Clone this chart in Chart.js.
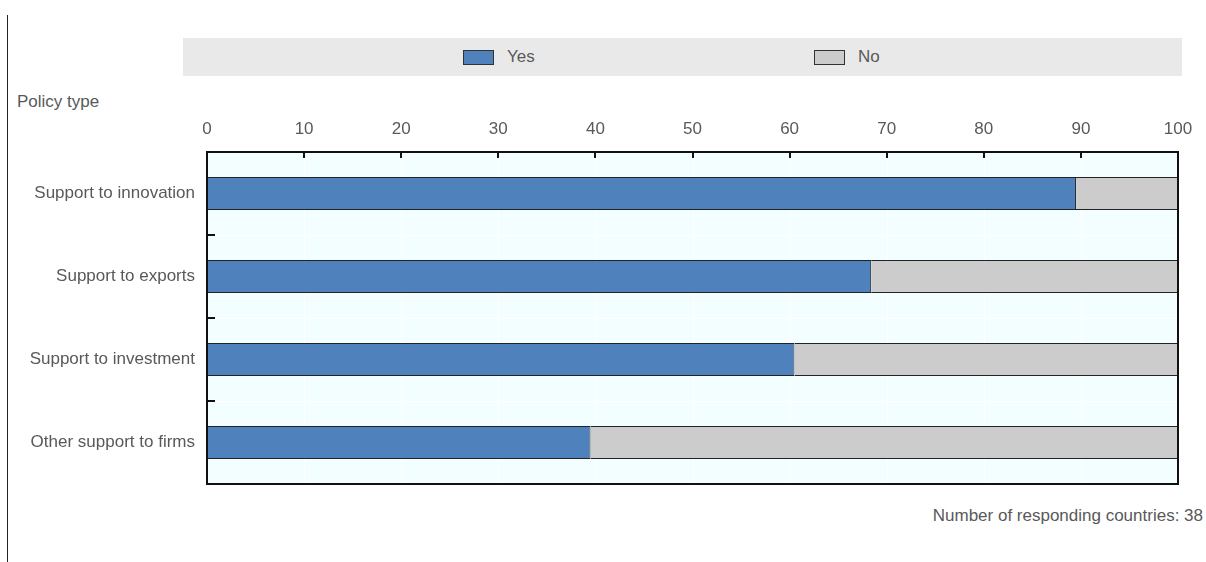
<!DOCTYPE html>
<html>
<head>
<meta charset="utf-8">
<script src="https://cdn.jsdelivr.net/npm/chart.js@4.4.0/dist/chart.umd.min.js"></script>
<style>
  body { margin: 0; background: #fff; font-family: "Liberation Sans", Arial, sans-serif; color: #595959; }
  #wrap { position: relative; width: 1206px; height: 562px; overflow: hidden; }
  #vline { position: absolute; left: 7px; top: 15px; width: 1px; height: 560px; background: #222; }
  #legend { position: absolute; left: 183px; top: 38px; width: 999px; height: 38px; background: #e9e9e9; }
  .item { position: absolute; top: 0; height: 38px; display: flex; align-items: center; font-size: 17px; }
  .swatch { width: 29px; height: 13px; border: 1px solid #333; margin-right: 13px; }
  #ytitle { position: absolute; left: 17px; top: 92px; font-size: 17px; }
  #note { position: absolute; right: 3px; top: 506px; font-size: 17px; }
  canvas { position: absolute; left: 0; top: 0; }
</style>
</head>
<body>
<div id="wrap">
  <div id="vline"></div>
  <div id="legend"></div>
  <div id="ytitle">Policy type</div>
  <div id="note">Number of responding countries: 38</div>
  <canvas id="chart" width="1206" height="562"></canvas>
</div>
<script>
var categories = ["Support to innovation", "Support to exports", "Support to investment", "Other support to firms"];
var yesValues = [89.5, 68.4, 60.5, 39.5];
var noValues = [10.5, 31.6, 39.5, 60.5];
var seriesNames = ["Yes", "No"];
var seriesColors = ["#4f81bd", "#cccccc"];

// plot background + frame + inside ticks
var framePlugin = {
    id: "frame",
    beforeDatasetsDraw: function (chart) {
        var a = chart.chartArea, ctx = chart.ctx;
        ctx.save();
        ctx.fillStyle = "#f2feff";
        ctx.fillRect(a.left, a.top, a.right - a.left, a.bottom - a.top);
        // white grid
        ctx.strokeStyle = "#ffffff";
        ctx.lineWidth = 1;
        var xs = chart.scales.x, ys = chart.scales.y;
        xs.ticks.forEach(function (t) {
            var px = Math.round(xs.getPixelForValue(t.value)) + 0.5;
            ctx.beginPath(); ctx.moveTo(px, a.top); ctx.lineTo(px, a.bottom); ctx.stroke();
        });
        for (var i = 0; i < categories.length - 1; i++) {
            var py = Math.round((ys.getPixelForValue(i) + ys.getPixelForValue(i + 1)) / 2) + 0.5;
            ctx.beginPath(); ctx.moveTo(a.left, py); ctx.lineTo(a.right, py); ctx.stroke();
        }
        ctx.restore();
    },
    afterDatasetsDraw: function (chart) {
        var a = chart.chartArea, ctx = chart.ctx;
        var xs = chart.scales.x, ys = chart.scales.y;
        ctx.save();
        ctx.strokeStyle = "#111";
        ctx.lineWidth = 2;
        xs.ticks.forEach(function (t) {
            if (t.value <= xs.min || t.value >= xs.max) return;
            var px = Math.round(xs.getPixelForValue(t.value));
            ctx.beginPath(); ctx.moveTo(px, a.top); ctx.lineTo(px, a.top + 6); ctx.stroke();
        });
        for (var i = 0; i < categories.length - 1; i++) {
            var py = Math.round((ys.getPixelForValue(i) + ys.getPixelForValue(i + 1)) / 2);
            ctx.beginPath(); ctx.moveTo(a.left, py); ctx.lineTo(a.left + 8, py); ctx.stroke();
        }
        ctx.strokeRect(a.left, a.top, a.right - a.left, a.bottom - a.top);
        ctx.restore();
    }
}

var chart = new Chart(document.getElementById("chart").getContext("2d"), {
    type: "bar",
    data: {
        labels: categories,
        datasets: [
            { label: seriesNames[0], data: yesValues, backgroundColor: seriesColors[0], borderColor: "#222", borderWidth: 1, barPercentage: 0.4, categoryPercentage: 1 },
            { label: seriesNames[1], data: noValues, backgroundColor: seriesColors[1], borderColor: "#222", borderWidth: 1, barPercentage: 0.4, categoryPercentage: 1 },
        ],
    },
    options: {
        indexAxis: "y",
        responsive: false,
        animation: false,
        layout: { padding: { left: 0, top: 0, right: 28, bottom: 78 } },
        plugins: { legend: { display: false }, tooltip: { enabled: false } },
        scales: {
            x: {
                position: "top",
                stacked: true,
                min: 0,
                max: 100,
                ticks: { stepSize: 10, color: "#595959", padding: 12, font: { family: "Liberation Sans", size: 17 } },
                grid: { display: false, drawTicks: false },
                border: { display: false },
                afterFit: function (scale) { scale.height = 152; },
            },
            y: {
                stacked: true,
                ticks: { color: "#595959", padding: 12, font: { family: "Liberation Sans", size: 17 } },
                grid: { display: false, drawTicks: false },
                border: { display: false },
                afterFit: function (scale) { scale.width = 207; },
            },
        },
    },
    plugins: [framePlugin],
})

// legend built from the datasets
var legendLeft = [280, 631];
chart.data.datasets.forEach(function (ds, i) {
    $item = document.createElement("div");
    $item.className = "item";
    $item.style.left = legendLeft[i] + "px";
    $item.innerHTML = `<span class="swatch" style="background:${ds.backgroundColor}"></span><span>${ds.label}</span>`;
    document.getElementById("legend").appendChild($item);
})
</script>
</body>
</html>
